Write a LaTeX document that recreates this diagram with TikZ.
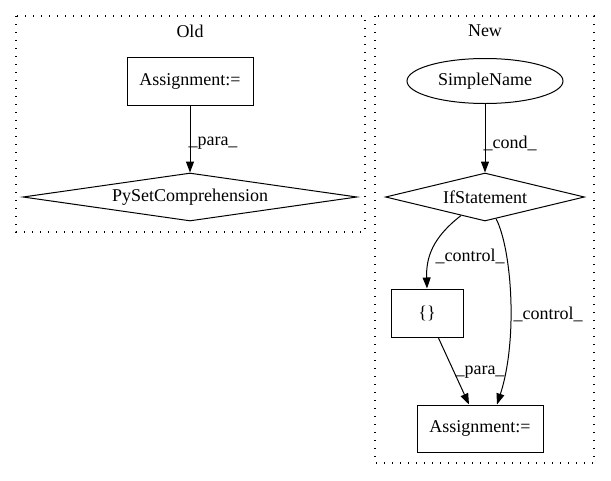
\documentclass[tikz,border=0pt]{standalone}
\usepackage{fontspec}
\setmainfont{Liberation Serif}
\usetikzlibrary{shapes.geometric,arrows.meta,calc}
\begin{document}
\begin{tikzpicture}[x=1pt,y=-1pt,
  every node/.style={font=\fontsize{18pt}{20pt}\selectfont},
  box/.style={draw,rectangle,inner sep=0pt,line width=1pt},
  dia/.style={draw,diamond,inner sep=0pt,aspect=6,line width=1pt},
  ell/.style={draw,ellipse,inner sep=0pt,line width=1pt},
  cluster/.style={draw,line width=1.2pt,dash pattern=on 1.2pt off 6.8pt},
  edge/.style={draw,line width=1pt,-{Triangle[length=11pt,width=8pt]}},
  lab/.style={inner sep=1pt}]
\useasboundingbox (0,0) rectangle (611,480);
% clusters
\draw[cluster] (16,16) rectangle (365,232);
\node (oldlab) at (190,31) {Old};
\draw[cluster] (375,16) rectangle (594,463);
\node (newlab) at (485,31) {New};
% old
\node[box,minimum width=126pt,minimum height=48pt] (a1) at (190,81) {Assignment:=};
\node[dia,minimum width=334pt,minimum height=48pt] (p) at (190,197) {PySetComprehension};
\draw[edge] (a1) -- (p);
\node[lab] (l1) at (213,143) {\_para\_};
% new
\node[ell,minimum width=156pt,minimum height=45pt] (sn) at (485,81) {SimpleName};
\node[dia,minimum width=199pt,minimum height=48pt] (if) at (485,197) {IfStatement};
\node[box,minimum width=72pt,minimum height=48pt] (cb) at (427,313) {\{\}};
\node[box,minimum width=126pt,minimum height=47pt] (a2) at (480,428.5) {Assignment:=};
\draw[edge] (sn) -- (if);
\node[lab] (l2) at (510,143) {\_cond\_};
\draw[edge] (if) .. controls (432,238) and (426,258) .. (cb.north);
\node[lab] (c1) at (470,256) {\_control\_};
\draw[edge] (if) .. controls (512,250) and (518,340) .. ($(a2.north)+(17,0)$);
\node[lab] (c2) at (548,314) {\_control\_};
\draw[edge] (cb) -- (a2);
\node[lab] (p2) at (480,372) {\_para\_};
\end{tikzpicture}
\end{document}
